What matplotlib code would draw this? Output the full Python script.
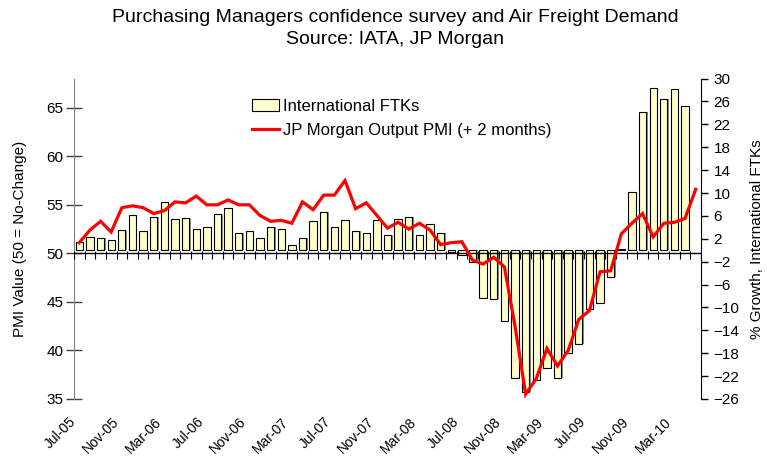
import numpy as np
import matplotlib
matplotlib.use("Agg")
from matplotlib import pyplot as plt
from matplotlib.patches import Patch
from matplotlib.lines import Line2D

plt.rcParams['font.family'] = ['Liberation Sans', 'DejaVu Sans']

# monthly categories Jul-05 .. May-10
months = ['Jul-05', 'Aug-05', 'Sep-05', 'Oct-05', 'Nov-05', 'Dec-05',
          'Jan-06', 'Feb-06', 'Mar-06', 'Apr-06', 'May-06', 'Jun-06',
          'Jul-06', 'Aug-06', 'Sep-06', 'Oct-06', 'Nov-06', 'Dec-06',
          'Jan-07', 'Feb-07', 'Mar-07', 'Apr-07', 'May-07', 'Jun-07',
          'Jul-07', 'Aug-07', 'Sep-07', 'Oct-07', 'Nov-07', 'Dec-07',
          'Jan-08', 'Feb-08', 'Mar-08', 'Apr-08', 'May-08', 'Jun-08',
          'Jul-08', 'Aug-08', 'Sep-08', 'Oct-08', 'Nov-08', 'Dec-08',
          'Jan-09', 'Feb-09', 'Mar-09', 'Apr-09', 'May-09', 'Jun-09',
          'Jul-09', 'Aug-09', 'Sep-09', 'Oct-09', 'Nov-09', 'Dec-09',
          'Jan-10', 'Feb-10', 'Mar-10', 'Apr-10', 'May-10']

# % growth, international FTKs (right axis), Jul-05 .. Apr-10
ftk_growth = [1.4, 2.4, 2.1, 1.8, 3.5, 6.2, 3.4, 5.8, 8.4, 5.5, 5.6, 3.8,
              4.0, 6.3, 7.3, 3.0, 3.4, 2.2, 4.1, 3.8, 0.9, 2.1, 5.1, 6.6,
              4.0, 5.3, 3.4, 3.1, 5.2, 2.6, 5.5, 5.8, 2.7, 4.6, 3.1, -0.3,
              -0.8, -2.1, -8.3, -8.6, -12.3, -22.4, -24.7, -22.6, -20.6, -22.4,
              -18.0, -16.4, -10.3, -9.2, -4.7, 0.3, 10.1, 24.2, 28.3, 26.4,
              28.1, 25.2]

# JP Morgan output PMI shifted +2 months (left axis), Jul-05 .. May-10
pmi = [51.1, 52.4, 53.3, 52.2, 54.7, 54.9, 54.7, 54.1, 54.4, 55.3, 55.2, 55.9,
       55.0, 55.0, 55.5, 55.0, 55.0, 53.9, 53.3, 53.4, 53.1, 55.3, 54.5, 56.0,
       56.0, 57.5, 54.6, 55.2, 53.9, 52.6, 53.2, 52.5, 53.1, 52.4, 50.9, 51.1,
       51.2, 49.3, 48.9, 49.6, 48.6, 42.5, 35.5, 37.1, 40.2, 38.4, 40.0, 43.2,
       44.1, 48.1, 48.2, 52.0, 53.1, 54.1, 51.7, 53.1, 53.2, 53.6, 56.6]

label_every = 4

fig = plt.figure(figsize=(7.67, 4.57), dpi=100)
ax = fig.add_axes([74/767, 1 - 399/457, (701 - 74)/767, (399 - 78.6)/457])
ax2 = ax.twinx()

x = np.arange(len(months))
xb = x[:len(ftk_growth)]

# bars with a grey drop shadow, on the right axis
ax2.bar(xb + 0.13, ftk_growth, width=0.69, color='#8c8c8c', edgecolor='none', zorder=1)
ax2.bar(xb, ftk_growth, width=0.69, color='#ffffcc', edgecolor='black', linewidth=0.8, zorder=2)
ax2.set_ylim(-26, 30)
ax2.set_yticks(np.arange(-26, 31, 4))
ax2.tick_params(axis='y', direction='out', length=5, width=1, labelsize=11, pad=4)
ax2.set_ylabel('% Growth, International FTKs', fontsize=11, labelpad=8)
for s in ['top', 'bottom', 'left']:
    ax2.spines[s].set_visible(False)

# PMI line on the left axis, drawn above the bars
ax.set_zorder(ax2.get_zorder() + 1)
ax.patch.set_visible(False)
ax.plot(x, pmi, color='#ff0000', linewidth=2.3, solid_joinstyle='miter', zorder=5)
ax.axhline(50, color='black', linewidth=1, zorder=3)
ax.vlines(np.arange(-0.5, len(months), 1), 49.45, 50.2, color='black', linewidth=0.8, zorder=3)

ax.set_xlim(-0.5, len(months) - 0.5)
ax.set_ylim(35, 68)
ax.set_yticks(np.arange(35, 66, 5))
ax.tick_params(axis='y', direction='inout', length=11, width=1, color='#404040', labelsize=11, pad=2)
ax.set_ylabel('PMI Value (50 = No-Change)', fontsize=11, labelpad=14)
ax.spines['left'].set_color('#808080')
for s in ['top', 'bottom', 'right']:
    ax.spines[s].set_visible(False)

ax.set_xticks(x[::label_every] - 0.5)
ax.set_xticklabels(months[::label_every], rotation=45, ha='right', va='center',
                   rotation_mode='anchor', fontsize=10)
ax.tick_params(axis='x', length=0, pad=15)

handles = [Patch(facecolor='#ffffcc', edgecolor='black', linewidth=0.8),
           Line2D([0], [0], color='#ff0000', linewidth=2.3)]
ax.legend(handles, ['International FTKs', 'JP Morgan Output PMI (+ 2 months)'],
          loc='upper left', bbox_to_anchor=(252/767, 1 - 99/457), bbox_transform=fig.transFigure,
          frameon=False, fontsize=12, handlelength=1.6, handletextpad=0.25,
          labelspacing=0.55, borderpad=0, borderaxespad=0)

fig.text(0.515, 1 - 17/457, 'Purchasing Managers confidence survey and Air Freight Demand',
         ha='center', va='center', fontsize=14)
fig.text(0.515, 1 - 39/457, 'Source: IATA, JP Morgan', ha='center', va='center', fontsize=14)

fig.savefig('out.png', dpi=100)
